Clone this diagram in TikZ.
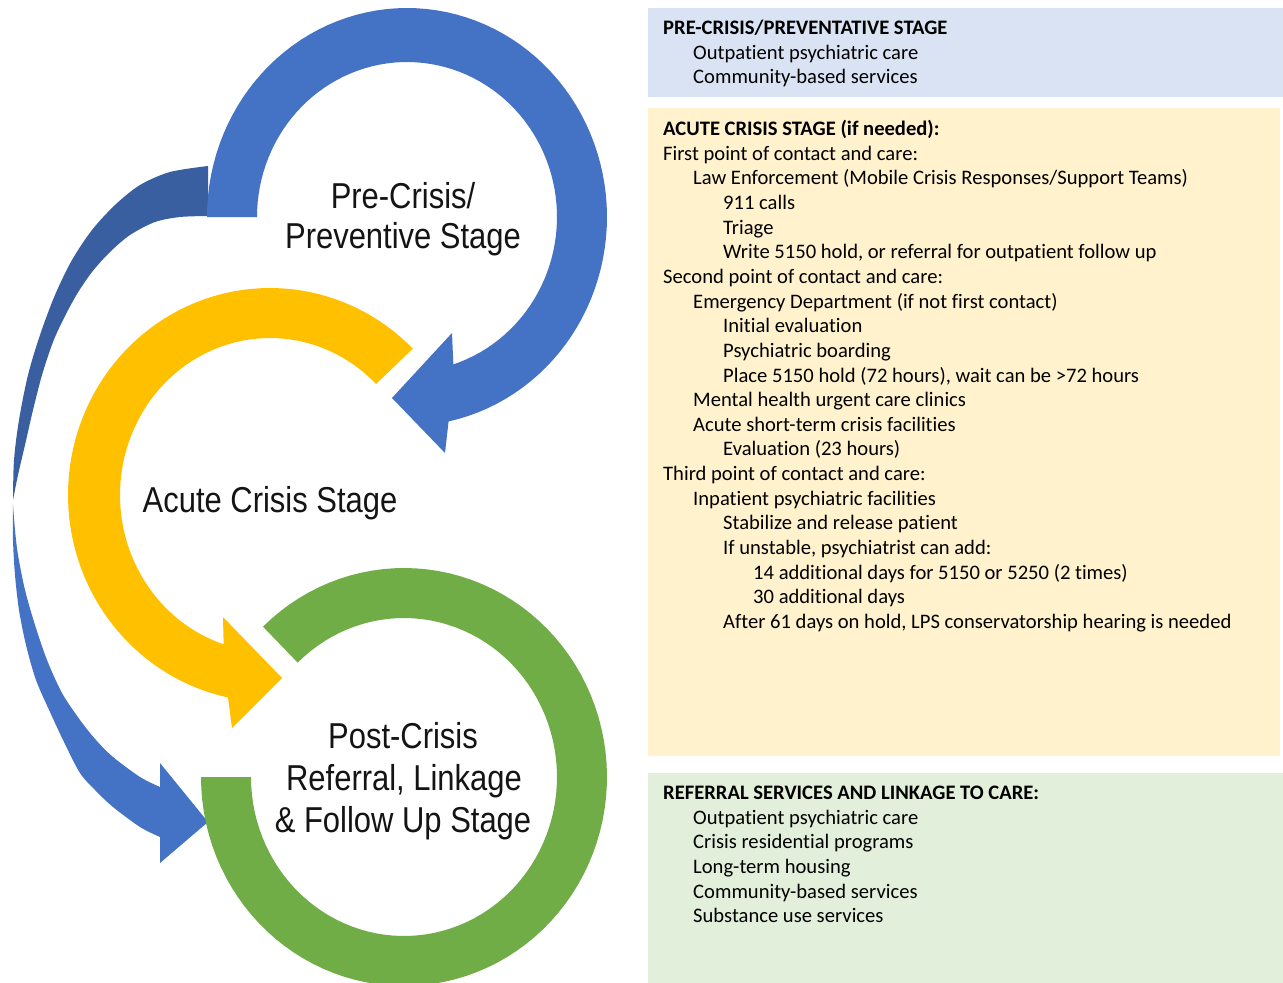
\documentclass[tikz,border=0pt]{standalone}
\usepackage{fontspec}
\newfontfamily\carl[Ligatures=NoCommon]{Carlito}
\newfontfamily\narrowsans[FakeStretch=0.86]{Liberation Sans}
\definecolor{arcblue}{HTML}{4472C4}
\definecolor{darkblue}{HTML}{3A5FA0}
\definecolor{arcyellow}{HTML}{FFC000}
\definecolor{arcgreen}{HTML}{70AD47}
\definecolor{boxblue}{HTML}{DAE3F3}
\definecolor{boxyellow}{HTML}{FFF2CC}
\definecolor{boxgreen}{HTML}{E2EFDA}
\tikzset{
  txt/.style={anchor=base west, inner sep=0pt, font=\carl\fontsize{20.6}{24}\selectfont, text=black},
  stagelabel/.style={anchor=base, inner sep=0pt, font=\narrowsans\fontsize{36}{40}\selectfont, text=black!92},
}
\begin{document}
\begin{tikzpicture}[x=1pt,y=-1pt]
\useasboundingbox (0,0) rectangle (1283,983);
\fill[white] (0,0) rectangle (1283,983);
\begin{scope}
\clip (0,0) rectangle (1283,983);
% right-hand boxes
\fill[boxblue] (648,8) rectangle (1283,97);
\fill[boxyellow] (648,108) rectangle (1280,756);
\fill[boxgreen] (648,773) rectangle (1283,983);

% dark (back) part of the left curved arrow
\fill[darkblue] plot[smooth] coordinates {(208,166) (170,172) (140,185) (115,205) (92,230) (72,260) (55,295) (40,335) (28,375) (19,420) (14,460) (13,500)}
  -- plot[smooth] coordinates {(13,500) (18,475) (25,445) (33,410) (42,375) (53,342) (64,318) (77,294) (92,272) (110,252) (130,235) (155,222) (180,217) (208,216)} -- cycle;
% light (front) part of the left curved arrow
\fill[arcblue] plot[smooth] coordinates {(13,505) (13,540) (15,575) (19,610) (26,645) (36,680) (50,712) (64,742) (80,773) (96,791) (113,807) (140,827) (160,837)}
  -- (160,863) -- (208,822) -- (160,763) -- (160,787)
  -- plot[smooth] coordinates {(160,787) (140,777) (113,757) (96,740) (80,720) (62,693) (47,660) (35,625) (25,590) (18,555) (15,530) (13,505)} -- cycle;

% blue circular arrow
\fill[arcblue] plot[domain=180:438,samples=90] ({407+200*cos(\x)},{217+209*sin(\x)})
  -- (445,453) -- (392,398) -- (452,333)
  -- plot[domain=432:180,samples=90] ({407+150*cos(\x)},{217+155*sin(\x)}) -- cycle;

% yellow circular arrow
\fill[arcyellow] plot[domain=-45:-258,samples=90] ({270+202*cos(\x)},{495+207*sin(\x)})
  -- (232,728) -- (282,678) -- (223,617)
  -- plot[domain=-252:-45,samples=90] ({270+150*cos(\x)},{495+157*sin(\x)}) -- cycle;

% green ring
\fill[arcgreen] plot[domain=180:-134,samples=100] ({404+203*cos(\x)},{777+209*sin(\x)})
  -- plot[domain=-134:180,samples=100] ({404+153*cos(\x)},{777+159*sin(\x)}) -- cycle;
\end{scope}

% stage labels
\node[stagelabel] (pre1) at (403,208) {Pre-Crisis/};
\node[stagelabel] (pre2) at (403,248) {Preventive Stage};
\node[stagelabel] (acute) at (270,512) {Acute Crisis Stage};
\node[stagelabel] (post1) at (403,748) {Post-Crisis};
\node[stagelabel] (post2) at (404,790) {Referral, Linkage};
\node[stagelabel] (post3) at (403,832) {\&\ Follow Up Stage};

% blue box text
\foreach \ind/\t [count=\i] in {0/{\textbf{PRE-CRISIS/PREVENTATIVE STAGE}},
  1/{Outpatient psychiatric care},
  1/{Community-based services}}
  \node[txt] (pb\i) at ({663+30*\ind},{34.5+24.65*(\i-1)}) {\t};

% yellow box text
\foreach \ind/\t [count=\i] in {0/{\textbf{ACUTE CRISIS STAGE (if needed):}},
  0/{First point of contact and care:},
  1/{Law Enforcement (Mobile Crisis Responses/Support Teams)},
  2/{911 calls},
  2/{Triage},
  2/{Write 5150 hold, or referral for outpatient follow up},
  0/{Second point of contact and care:},
  1/{Emergency Department (if not first contact)},
  2/{Initial evaluation},
  2/{Psychiatric boarding},
  2/{Place 5150 hold (72 hours), wait can be >72 hours},
  1/{Mental health urgent care clinics},
  1/{Acute short-term crisis facilities},
  2/{Evaluation (23 hours)},
  0/{Third point of contact and care:},
  1/{Inpatient psychiatric facilities},
  2/{Stabilize and release patient},
  2/{If unstable, psychiatrist can add:},
  3/{14 additional days for 5150 or 5250 (2 times)},
  3/{30 additional days},
  2/{After 61 days on hold, LPS conservatorship hearing is needed}}
  \node[txt] (ac\i) at ({663+30*\ind},{135.5+24.65*(\i-1)}) {\t};

% green box text
\foreach \ind/\t [count=\i] in {0/{\textbf{REFERRAL SERVICES AND LINKAGE TO CARE:}},
  1/{Outpatient psychiatric care},
  1/{Crisis residential programs},
  1/{Long-term housing},
  1/{Community-based services},
  1/{Substance use services}}
  \node[txt] (rf\i) at ({663+30*\ind},{799.5+24.65*(\i-1)}) {\t};
\end{tikzpicture}
\end{document}
